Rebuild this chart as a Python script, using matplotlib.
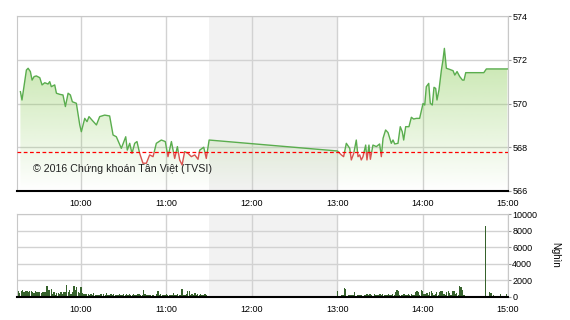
import numpy as np
import matplotlib
matplotlib.use("Agg")
import matplotlib.pyplot as plt
from matplotlib.patches import Rectangle

plt.rcParams['font.family'] = ['Liberation Sans', 'DejaVu Sans']

# index price, time in minutes after 9:00
price_t = [17.4, 18.5, 21.6, 22.8, 24.4, 25.6, 27.0, 28.6, 31.0, 32.6, 34.5, 36.8, 38.0, 39.1,
           41.5, 42.7, 45.0, 47.3, 49.0, 50.9, 52.5, 53.9, 56.7, 59.1, 60.2, 62.6, 64.2, 65.6,
           68.0, 70.8, 73.1, 76.6, 80.1, 82.5, 84.8, 88.3, 91.4, 92.5, 94.2, 95.8, 97.7, 99.3,
           101.2, 103.5, 105.9, 108.2, 110.6, 112.9, 116.4, 119.2, 121.1, 123.5, 125.8, 127.7,
           129.3, 131.0, 132.8, 135.2, 137.5, 139.9, 142.2, 143.4, 146.2, 148.0, 150.0,
           240.1, 242.9, 244.5, 246.4, 248.8, 249.9, 251.6, 253.4, 254.6, 255.8, 256.9, 258.1,
           260.0, 260.9, 262.3, 263.3, 265.1, 267.5, 269.8, 271.0, 272.2, 274.0, 275.7, 278.0,
           279.2, 280.4, 282.7, 284.3, 285.7, 286.7, 288.1, 290.4, 292.1, 293.7, 295.6, 297.9,
           300.3, 301.5, 302.6, 304.3, 305.4, 306.8, 308.0, 309.2, 310.1, 311.5, 313.2, 314.3,
           315.3, 316.7, 319.0, 321.4, 322.6, 324.2, 326.1, 328.0, 329.1, 330.3, 333.1, 343.0,
           344.8, 359.5]
price_v = [570.54, 570.16, 571.53, 571.61, 571.46, 571.07, 571.23, 571.26, 571.18, 570.85, 570.95,
           570.89, 571.00, 570.77, 570.85, 570.47, 570.42, 570.39, 569.86, 570.47, 570.39, 570.08,
           570.01, 569.02, 568.71, 569.32, 569.17, 569.40, 569.22, 569.02, 569.40, 569.47, 569.43,
           568.56, 568.48, 567.95, 568.48, 567.87, 568.18, 567.72, 568.18, 568.26, 567.72, 567.27,
           567.27, 567.65, 567.57, 568.18, 568.33, 568.26, 567.57, 568.26, 567.49, 568.03, 567.42,
           567.19, 567.80, 567.72, 567.57, 567.65, 567.45, 567.87, 568.00, 567.49, 568.33,
           567.83, 567.65, 567.57, 568.18, 567.95, 567.42, 567.72, 568.33, 567.57, 567.65, 567.42,
           567.57, 568.10, 567.42, 568.10, 567.45, 568.10, 568.03, 568.15, 567.57, 568.41, 568.79,
           568.67, 568.18, 568.33, 568.15, 568.18, 568.94, 568.71, 568.33, 568.94, 568.94, 569.37,
           569.29, 569.32, 569.32, 570.00, 569.93, 570.77, 570.92, 570.01, 569.93, 570.74, 570.69,
           570.16, 570.62, 571.53, 571.99, 572.52, 571.61, 571.56, 571.50, 571.30, 571.46, 571.23,
           571.07, 571.07, 571.41, 571.41, 571.41, 571.58, 571.58]
ref_price = 567.77

# volume (nghin), one bar per minute from 9:15 and from 13:00
vol_am = [960, 700, 500, 780, 820, 560, 720, 700, 650, 720,
          680, 620, 480, 700, 620, 560, 620, 520, 600, 560,
          580, 1280, 900, 860, 1000, 420, 620, 300, 520, 540,
          380, 620, 420, 560, 650, 1490, 620, 820, 380, 560,
          1280, 900, 1200, 620, 520, 1250, 460, 420, 380, 400,
          380, 300, 340, 280, 440, 300, 200, 300, 240, 360,
          180, 400, 300, 500, 280, 200, 360, 260, 320, 300,
          240, 200, 360, 280, 220, 380, 300, 420, 260, 340,
          300, 260, 380, 280, 240, 320, 400, 280, 200, 800,
          360, 260, 240, 300, 200, 300, 240, 180, 340, 680,
          220, 400, 300, 200, 260, 340, 300, 220, 260, 200,
          500, 300, 260, 400, 300, 220, 960, 300, 220, 400,
          720, 680, 260, 320, 260, 500, 300, 340, 280, 420,
          200, 260, 360, 300, 140]
vol_pm = [680, 150, 100, 200, 250, 1120, 1000, 150, 250, 200,
          300, 200, 650, 150, 220, 300, 200, 280, 160, 300,
          250, 320, 200, 350, 260, 180, 400, 300, 250, 200,
          320, 260, 380, 240, 300, 200, 350, 280, 220, 400,
          300, 600, 850, 700, 250, 300, 200, 350, 300, 250,
          320, 200, 400, 300, 280, 550, 750, 600, 300, 800,
          700, 400, 320, 500, 300, 650, 720, 500, 300, 420,
          600, 300, 550, 680, 720, 400, 300, 600, 700, 500,
          300, 700, 750, 400, 500, 300, 1280, 1150, 900, 300]
vol_late_t = [336.6, 342.4, 344.3, 347.2, 348.1, 349.9, 354.7, 359.0]
vol_late_v = [60, 100, 8550, 560, 500, 240, 360, 360]

hour_ticks = [60, 120, 180, 240, 300, 360]
hour_labels = ["10:00", "11:00", "12:00", "13:00", "14:00", "15:00"]

fig = plt.figure(figsize=(5.7, 3.2), dpi=100)
ax = fig.add_axes([17 / 570, 1 - 191 / 320, 491 / 570, 175 / 320])
axv = fig.add_axes([17 / 570, 1 - 297 / 320, 491 / 570, 83 / 320])

for a in (ax, axv):
    a.axvspan(150, 240, color='#f2f2f2', lw=0, zorder=0)
    a.set_xlim(15, 360)
    a.set_xticks(hour_ticks)
    a.set_xticklabels(hour_labels)
    a.grid(color='#d2d2d2', lw=1)
    a.set_axisbelow(True)
    a.yaxis.tick_right()
    for s in ('top', 'left', 'right'):
        a.spines[s].set_color('#c8c8c8')
    a.spines['bottom'].set_color('black')
    a.spines['bottom'].set_linewidth(1.5)
    a.tick_params(axis='x', labelsize=6.5, length=0, pad=6)
    a.tick_params(axis='y', labelsize=6.5, length=2, pad=1, color='#999999')

# price panel
ax.set_ylim(566, 574)
ax.set_yticks([566, 568, 570, 572, 574])

poly = ax.fill_between(price_t, price_v, 566, facecolor='none', edgecolor='none')
grad = np.zeros((256, 1, 4))
grad[:, 0, 0] = 0.55
grad[:, 0, 1] = 0.80
grad[:, 0, 2] = 0.35
grad[:, 0, 3] = np.linspace(0.0, 0.62, 256)
im = ax.imshow(grad, extent=[15, 360, 566, 574], origin='lower', aspect='auto',
               interpolation='bilinear', zorder=1)
im.set_clip_path(poly.get_paths()[0], transform=ax.transData)

g_line, = ax.plot(price_t, price_v, color='#5aad4e', lw=1, zorder=3)
g_line.set_clip_path(Rectangle((15, ref_price), 345, 10, transform=ax.transData))
r_line, = ax.plot(price_t, price_v, color='#d9534f', lw=1, zorder=3)
r_line.set_clip_path(Rectangle((15, 560), 345, ref_price - 560, transform=ax.transData))
ax.axhline(ref_price, color='#ff0000', lw=0.9, ls=(0, (3, 2)), zorder=4)
ax.set_xlim(15, 360)
ax.set_ylim(566, 574)

ax.text(0.0326, 0.126, '© 2016 Chứng khoán Tân Việt (TVSI)', transform=ax.transAxes,
        fontsize=7.7, va='center', ha='left', color='#222222', zorder=5)

# volume panel
bar_color = '#36622c'
axv.bar(np.arange(15, 15 + len(vol_am)), vol_am, width=0.9, color=bar_color, zorder=2)
axv.bar(np.arange(240, 240 + len(vol_pm)), vol_pm, width=0.9, color=bar_color, zorder=2)
axv.bar(vol_late_t, vol_late_v, width=0.9, color=bar_color, zorder=2)
axv.set_ylim(0, 10000)
axv.set_yticks([0, 2000, 4000, 6000, 8000, 10000])

fig.text(555 / 570, 1 - 255 / 320, 'Nghìn', rotation=270, ha='center', va='center', fontsize=7)

fig.savefig('out.png', dpi=100)
